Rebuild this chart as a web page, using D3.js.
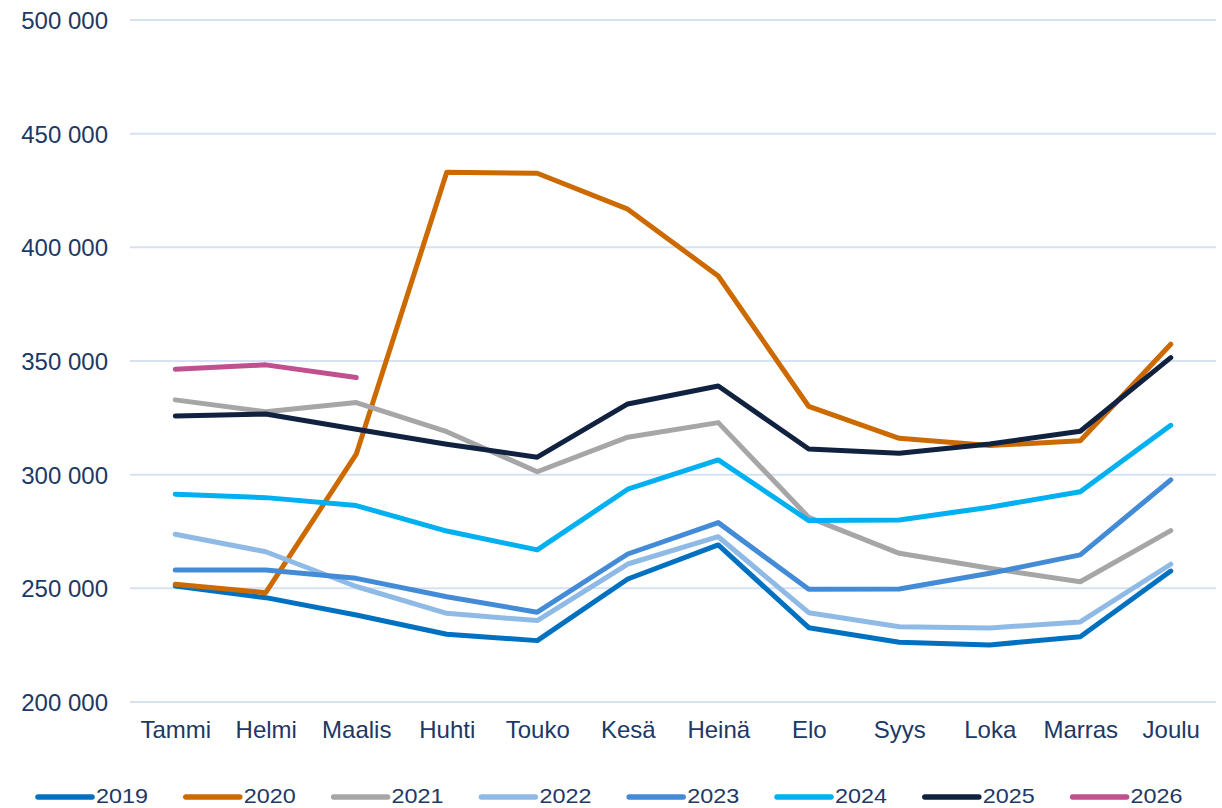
<!DOCTYPE html>
<html lang="fi">
<meta charset="utf-8"/>
<head>
<style>
  body { margin: 0; background: #ffffff; }
  svg text { font-family: "Liberation Sans", Arial, sans-serif; fill: #203864; }
  .grid line { stroke: #d6e2f3; stroke-width: 2; }
  .series { fill: none; stroke-width: 5; stroke-linecap: round; stroke-linejoin: round; }
</style>
</head>
<body>
<svg id="chart" width="1222" height="808"></svg>

<script src="https://d3js.org/d3.v7.min.js"></script>
<script>
// data
const months = ["Tammi", "Helmi", "Maalis", "Huhti", "Touko", "Kesä", "Heinä", "Elo", "Syys", "Loka", "Marras", "Joulu"]
const yTicks = [200000, 250000, 300000, 350000, 400000, 450000, 500000]

const v2019 = [251000, 245900, 238300, 229800, 227000, 254100, 269100, 232700, 226300, 225100, 228700, 257600]
const v2020 = [251800, 248100, 309000, 433000, 432600, 416800, 387400, 330000, 316000, 312800, 314900, 357400]
const v2021 = [332900, 327700, 331700, 318900, 301300, 316500, 322900, 281200, 265400, 258800, 252900, 275400]
const v2022 = [273800, 266100, 250800, 239000, 235800, 260700, 272700, 239300, 233100, 232600, 235200, 260600]
const v2023 = [258100, 258100, 254400, 246300, 239500, 265100, 278900, 249600, 249700, 256600, 264700, 297700]
const v2024 = [291400, 289900, 286400, 275200, 266900, 293600, 306500, 279800, 280100, 285700, 292500, 321700]
const v2025 = [325800, 326700, 320000, 313400, 307700, 331100, 339000, 311300, 309400, 313500, 319100, 351500]
const v2026 = [346400, 348300, 342700]

const years = ["2019", "2020", "2021", "2022", "2023", "2024", "2025", "2026"]
const values = [v2019, v2020, v2021, v2022, v2023, v2024, v2025, v2026]
const colors = ["#0070c0", "#cc6a00", "#a6a6a6", "#8fbae6", "#438bd6", "#00b0f0", "#10223f", "#c0508e"]

let svg = d3.select("#chart")
let plotLeft = 130, plotRight = 1216, plotTop = 20, plotBottom = 702

let x = d3.scalePoint()
  .domain(months)
  .range([plotLeft, plotRight])
  .padding(0.5)

let y = d3.scaleLinear()
  .domain([200000, 500000])
  .range([plotBottom, plotTop])

let fmt = d => d3.format(",")(d).replace(/,/g, " ")

// gridlines
svg.append("g")
  .attr("class", "grid")
  .selectAll("line")
  .data(yTicks)
  .join("line")
  .attr("x1", plotLeft)
  .attr("x2", plotRight)
  .attr("y1", d => y(d))
  .attr("y2", d => y(d))

// y axis labels
let yAxis = svg.append("g")
  .attr("transform", "translate(" + 108 + ",0)")
  .call(d3.axisLeft(y).tickValues(yTicks).tickSize(0).tickPadding(0).tickFormat(fmt))
yAxis.select(".domain").remove()
yAxis.selectAll("text")
  .style("font-size", "24px")
  .attr("fill", "#203864")
  .attr("dy", "0.36em")

// x axis labels
let xAxis = svg.append("g")
  .attr("transform", "translate(0," + plotBottom + ")")
  .call(d3.axisBottom(x).tickSize(0).tickPadding(0))
xAxis.select(".domain").remove()
xAxis.selectAll("text")
  .style("font-size", "24px")
  .attr("fill", "#203864")
  .attr("dy", null)
  .attr("y", 36)

// lines
let line = d3.line()
  .x((d, i) => x(months[i]))
  .y(d => y(d))

svg.append("g")
  .selectAll("path")
  .data(values)
  .join("path")
  .attr("class", "series")
  .attr("stroke", (d, i) => colors[i])
  .attr("d", d => line(d))

// legend
let legend = svg.append("g")
  .selectAll("g")
  .data(years)
  .join("g")
  .attr("transform", (d, i) => "translate(" + (38 + i * 147.8) + ",797)")

legend.append("line")
  .attr("x1", 0)
  .attr("x2", 54)
  .attr("stroke", (d, i) => colors[i])
  .attr("stroke-width", 5.5)
  .attr("stroke-linecap", "round")

legend.append("text")
  .attr("x", 58)
  .attr("y", 5.5)
  .attr("textLength", 52)
  .attr("lengthAdjust", "spacingAndGlyphs")
  .style("font-size", "21px")
  .text(d => d)
</script>
</body>
</html>
